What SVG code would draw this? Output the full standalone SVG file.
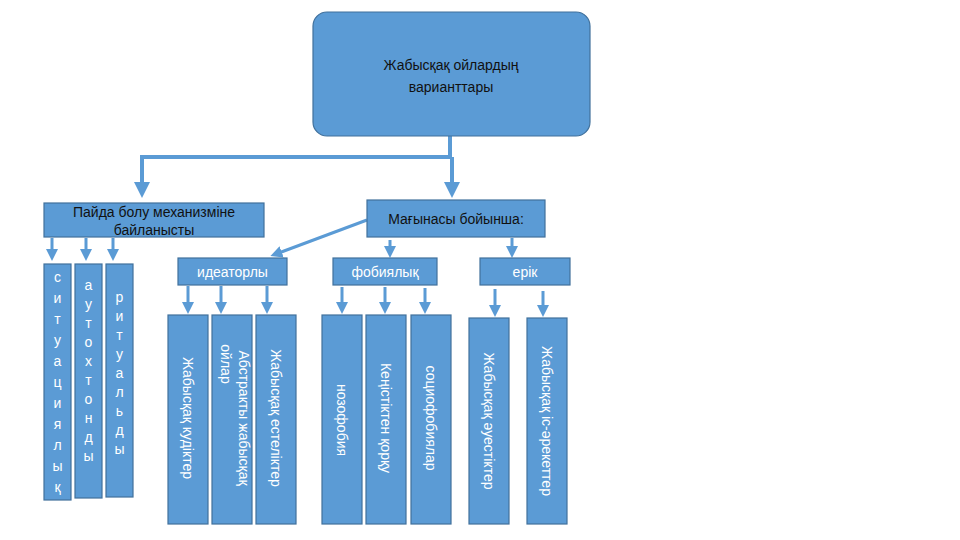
<svg xmlns="http://www.w3.org/2000/svg" width="960" height="540" viewBox="0 0 960 540">
<style>
.b{fill:#5b9bd5;stroke:#41719c;stroke-width:1.2}
.t{font-family:"Liberation Sans",Arial,sans-serif;font-size:14px;fill:#fff;text-anchor:middle}
.k{fill:#111}
.c{stroke:#5b9bd5;stroke-width:3;fill:none}
.c2{stroke:#5b9bd5;stroke-width:4;fill:none}
</style>
<defs><marker id="a" markerWidth="4" markerHeight="4" refX="2" refY="2" orient="auto" markerUnits="strokeWidth"><path d="M0,0L4,2L0,4z" fill="#5b9bd5"/></marker></defs>
<rect width="960" height="540" fill="#fff"/>
<g id="connectors">
<path class="c2" d="M450,136V157H142V190" marker-end="url(#a)"/>
<path class="c2" d="M452,157V190" marker-end="url(#a)"/>
<path class="c" d="M52,238V255" marker-end="url(#a)"/>
<path class="c" d="M86,238V255" marker-end="url(#a)"/>
<path class="c" d="M113,238V255" marker-end="url(#a)"/>
<path class="c" d="M367,220L276,254" marker-end="url(#a)"/>
<path class="c" d="M390,240V252" marker-end="url(#a)"/>
<path class="c" d="M512,238V252" marker-end="url(#a)"/>
<path class="c" d="M188,286V308" marker-end="url(#a)"/>
<path class="c" d="M221,286V308" marker-end="url(#a)"/>
<path class="c" d="M267,286V308" marker-end="url(#a)"/>
<path class="c" d="M342,287V308" marker-end="url(#a)"/>
<path class="c" d="M385,287V308" marker-end="url(#a)"/>
<path class="c" d="M425,288V308" marker-end="url(#a)"/>
<path class="c" d="M495,289V311" marker-end="url(#a)"/>
<path class="c" d="M543,291V311" marker-end="url(#a)"/>
</g>
<g id="top"><rect class="b" x="313" y="12" width="277" height="124" rx="14"/><text class="t k" x="451" y="70">Жабысқақ ойлардың</text><text class="t k" x="451" y="92">варианттары</text></g>
<g id="paida"><rect class="b" x="44" y="203" width="220" height="34"/><text class="t k" x="154" y="217">Пайда болу механизміне</text><text class="t k" x="154" y="235">байланысты</text></g>
<g id="magyn"><rect class="b" x="367" y="200" width="178" height="37"/><text class="t k" x="456" y="224">Мағынасы бойынша:</text></g>
<g id="sit"><rect class="b" x="44" y="264" width="27" height="236"/><text class="t" x="57.5" y="282"><tspan x="57.5">с</tspan><tspan x="57.5" dy="21">и</tspan><tspan x="57.5" dy="21">т</tspan><tspan x="57.5" dy="21">у</tspan><tspan x="57.5" dy="21">а</tspan><tspan x="57.5" dy="21">ц</tspan><tspan x="57.5" dy="21">и</tspan><tspan x="57.5" dy="21">я</tspan><tspan x="57.5" dy="21">л</tspan><tspan x="57.5" dy="21">ы</tspan><tspan x="57.5" dy="21">қ</tspan></text></g>
<g id="aut"><rect class="b" x="75" y="264" width="27" height="234"/><text class="t" x="88.5" y="290"><tspan x="88.5">а</tspan><tspan x="88.5" dy="19">у</tspan><tspan x="88.5" dy="19">т</tspan><tspan x="88.5" dy="19">о</tspan><tspan x="88.5" dy="19">х</tspan><tspan x="88.5" dy="19">т</tspan><tspan x="88.5" dy="19">о</tspan><tspan x="88.5" dy="19">н</tspan><tspan x="88.5" dy="19">д</tspan><tspan x="88.5" dy="19">ы</tspan></text></g>
<g id="rit"><rect class="b" x="106" y="264" width="27" height="233"/><text class="t" x="119.5" y="302"><tspan x="119.5">р</tspan><tspan x="119.5" dy="19">и</tspan><tspan x="119.5" dy="19">т</tspan><tspan x="119.5" dy="19">у</tspan><tspan x="119.5" dy="19">а</tspan><tspan x="119.5" dy="19">л</tspan><tspan x="119.5" dy="19">ь</tspan><tspan x="119.5" dy="19">д</tspan><tspan x="119.5" dy="19">ы</tspan></text></g>
<g id="idea"><rect class="b" x="178" y="258" width="109" height="27"/><text class="t" x="232.5" y="277">идеаторлы</text></g>
<g id="fob"><rect class="b" x="333" y="258" width="104" height="27"/><text class="t" x="385" y="277">фобиялық</text></g>
<g id="erik"><rect class="b" x="480" y="258" width="90" height="27"/><text class="t" x="525" y="277">ерік</text></g>
<g id="n1"><rect class="b" x="168" y="315" width="40" height="209"/><text class="t" transform="translate(183,418) rotate(90)">Жабысқақ кудіктер</text></g>
<g id="n2"><rect class="b" x="212" y="315" width="40" height="209"/><text class="t" transform="translate(232,418) rotate(90)"><tspan x="0" y="-7">Абстракты жабысқақ</tspan><tspan x="-54" y="11">ойлар</tspan></text></g>
<g id="n3"><rect class="b" x="256" y="315" width="40" height="209"/><text class="t" transform="translate(271,418) rotate(90)">Жабысқақ естеліктер</text></g>
<g id="n4"><rect class="b" x="322" y="315" width="40" height="209"/><text class="t" transform="translate(337,420) rotate(90)">нозофобия</text></g>
<g id="n5"><rect class="b" x="366" y="315" width="40" height="209"/><text class="t" transform="translate(381,418) rotate(90)">Кеңістіктен қорқу</text></g>
<g id="n6"><rect class="b" x="411" y="315" width="40" height="209"/><text class="t" transform="translate(426,418) rotate(90)">социофобиялар</text></g>
<g id="n7"><rect class="b" x="469" y="318" width="40" height="206"/><text class="t" transform="translate(484,421) rotate(90)">Жабысқақ әуестіктер</text></g>
<g id="n8"><rect class="b" x="527" y="318" width="40" height="206"/><text class="t" transform="translate(542,421) rotate(90)">Жабысқақ іс-әрекеттер</text></g>
</svg>
